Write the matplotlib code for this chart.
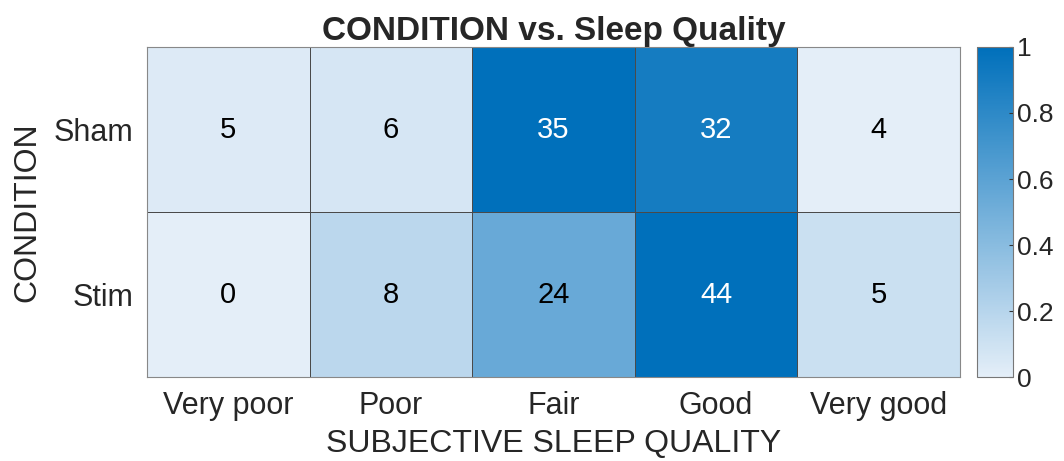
import numpy as np
import matplotlib
matplotlib.use('Agg')
import matplotlib.pyplot as plt
from matplotlib.colors import LinearSegmentedColormap

# data
conditions = ['Sham', 'Stim']
qualities = ['Very poor', 'Poor', 'Fair', 'Good', 'Very good']
sham_counts = [5, 6, 35, 32, 4]
stim_counts = [0, 8, 24, 44, 5]

counts = np.array([sham_counts, stim_counts], dtype=float)
# colour is min-max normalised within each row
rmin = counts.min(axis=1, keepdims=True)
rmax = counts.max(axis=1, keepdims=True)
norm_vals = (counts - rmin) / (rmax - rmin)

plt.rcParams['font.family'] = ['Liberation Sans', 'DejaVu Sans']
cmap = LinearSegmentedColormap.from_list('mblue', ['#e4eef8', '#0070bb'])

fig = plt.figure(figsize=(10.64, 4.61), dpi=100)
ax = fig.add_axes([147 / 1064, 1 - 377 / 461, 813 / 1064, 330 / 461])
cax = fig.add_axes([977 / 1064, 1 - 377 / 461, 36 / 1064, 330 / 461])

mesh = ax.pcolormesh(norm_vals, cmap=cmap, vmin=0, vmax=1,
                     edgecolor='#4a4a4a', linewidth=0.6)
ax.set_ylim(2, 0)
ax.set_xlim(0, 5)

for i in range(counts.shape[0]):
    for j in range(counts.shape[1]):
        col = 'white' if norm_vals[i, j] > 0.75 else 'black'
        ax.text(j + 0.5, i + 0.5, '%d' % counts[i, j], ha='center', va='center',
                fontsize=21, color=col)

ax.set_xticks(np.arange(5) + 0.5)
ax.set_xticklabels(qualities, fontsize=22, color='#262626')
ax.set_yticks(np.arange(2) + 0.5)
ax.set_yticklabels(conditions, fontsize=22, color='#262626')
ax.tick_params(length=0, pad=10)
for s in ax.spines.values():
    s.set_color('#888888')
ax.set_xlabel('SUBJECTIVE SLEEP QUALITY', fontsize=23, labelpad=6, color='#262626')
ax.set_ylabel('CONDITION', fontsize=23, labelpad=8, color='#262626')
ax.set_title('CONDITION vs. Sleep Quality', fontsize=24, fontweight='bold', pad=3,
             color='#262626')

cb = fig.colorbar(mesh, cax=cax)
cb.set_ticks([0, 0.2, 0.4, 0.6, 0.8, 1])
cb.set_ticklabels(['0', '0.2', '0.4', '0.6', '0.8', '1'])
cb.ax.tick_params(labelsize=19, length=3, direction='in', color='#333333',
                  labelcolor='#262626', pad=3)
cb.outline.set_edgecolor('#777777')

fig.savefig('out.png', dpi=100, facecolor='white')
